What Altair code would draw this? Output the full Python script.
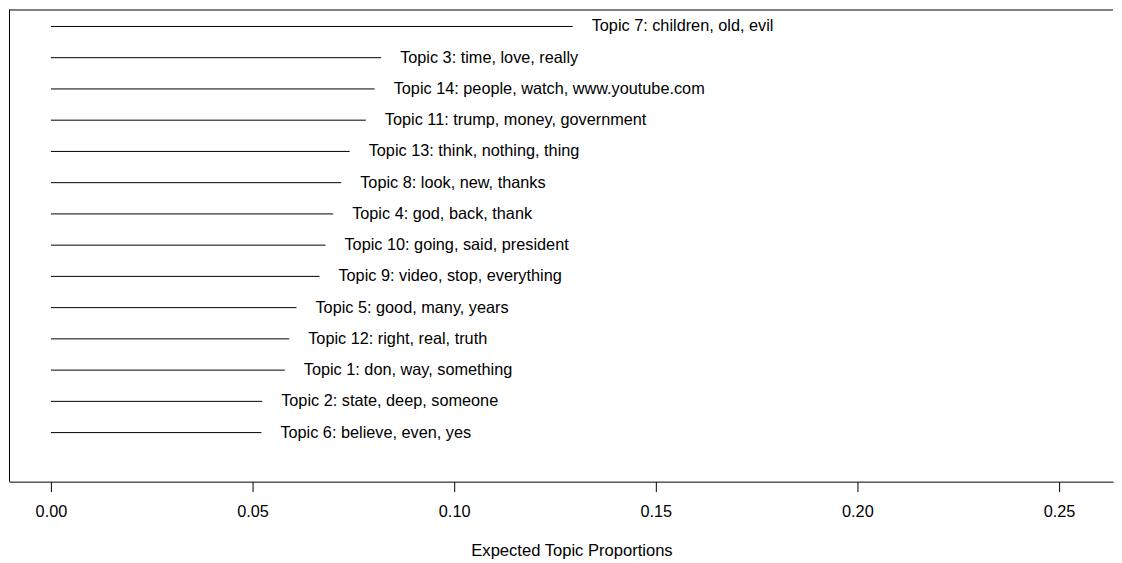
import altair as alt
import pandas as pd

topics = [
    "Topic 7: children, old, evil",
    "Topic 3: time, love, really",
    "Topic 14: people, watch, www.youtube.com",
    "Topic 11: trump, money, government",
    "Topic 13: think, nothing, thing",
    "Topic 8: look, new, thanks",
    "Topic 4: god, back, thank",
    "Topic 10: going, said, president",
    "Topic 9: video, stop, everything",
    "Topic 5: good, many, years",
    "Topic 12: right, real, truth",
    "Topic 1: don, way, something",
    "Topic 2: state, deep, someone",
    "Topic 6: believe, even, yes",
]
proportions = [0.1294, 0.0819, 0.0803, 0.0781, 0.0741, 0.0720, 0.0700,
               0.0681, 0.0666, 0.0609, 0.0591, 0.0580, 0.0524, 0.0522]
tick_values = [0.0, 0.05, 0.10, 0.15, 0.20, 0.25]

W, H = 1106, 473
FONT = "Liberation Sans"

df = pd.DataFrame({
    "label": topics,
    "value": proportions,
    "rank": list(range(1, len(topics) + 1)),
    "start": [0.0] * len(topics),
})

xscale = alt.Scale(domain=[-0.0104, 0.2634], nice=False, zero=False)
yscale = alt.Scale(domain=[15.57, 0.457], nice=False, zero=False)

base = alt.Chart(df)

lines = base.mark_rule(color="black", strokeWidth=1).encode(
    x=alt.X("start:Q", scale=xscale,
            axis=alt.Axis(values=tick_values, format=".2f", title="Expected Topic Proportions",
                          grid=False, tickSize=10, tickColor="black", domainColor="black",
                          labelColor="black", titleColor="black", labelFontSize=16.3,
                          titleFontSize=16.6, labelFont=FONT, titleFont=FONT,
                          titleFontWeight="normal", labelPadding=12, titlePadding=23,
                          titleX=563.5, titleAlign="center", titleAnchor="start",
                          labelFlush=False)),
    x2="value:Q",
    y=alt.Y("rank:Q", scale=yscale, axis=None),
)

labels = base.mark_text(align="left", baseline="middle", dx=19, fontSize=16.3,
                        font=FONT, color="black").encode(
    x=alt.X("value:Q", scale=xscale),
    y=alt.Y("rank:Q", scale=yscale, axis=None),
    text="label:N",
)

frame_df = pd.DataFrame({"a": [0]})
top_border = alt.Chart(frame_df).mark_rule(color="black", strokeWidth=1).encode(
    x=alt.value(0), x2=alt.value(W), y=alt.value(0.5))
left_border = alt.Chart(frame_df).mark_rule(color="black", strokeWidth=1).encode(
    x=alt.value(0.5), y=alt.value(0), y2=alt.value(H))

chart = alt.layer(lines, labels, top_border, left_border).properties(
    width=W, height=H,
    padding={"left": 0, "top": 0, "right": 0, "bottom": 0},
).configure_view(stroke=None)

chart.save("out.html", embed_options={"renderer": "svg", "actions": False})
